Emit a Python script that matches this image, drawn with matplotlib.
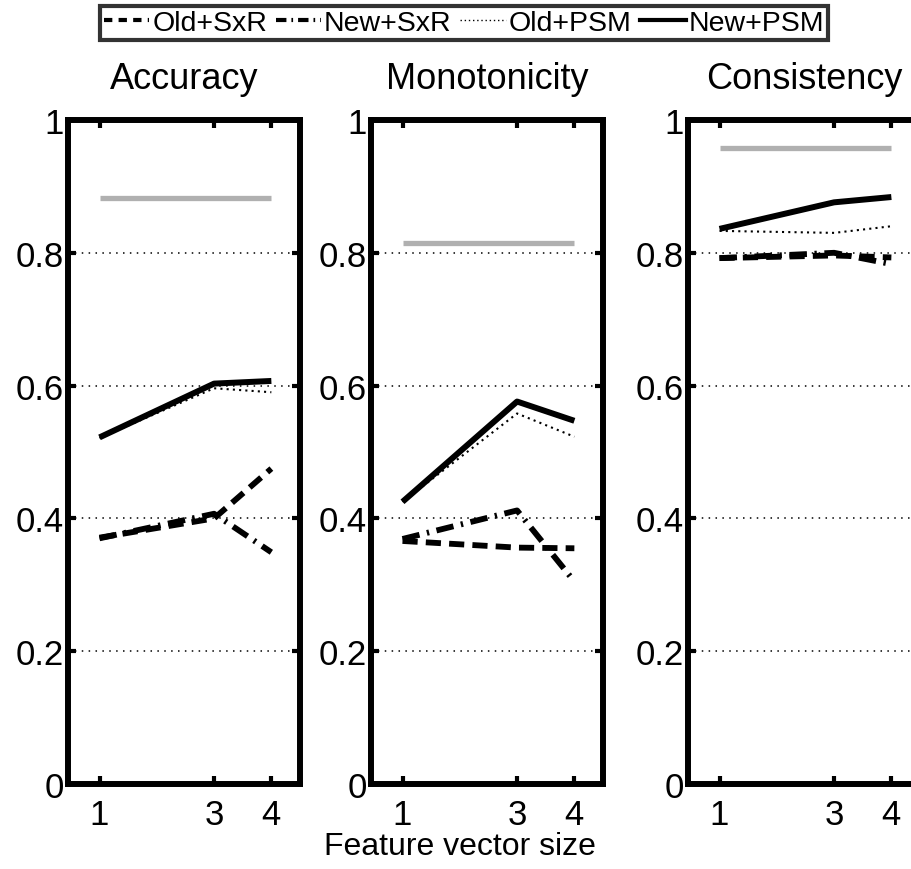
import matplotlib
matplotlib.use('Agg')
import matplotlib.pyplot as plt
from matplotlib.lines import Line2D

plt.rcParams['font.family'] = ['Liberation Sans', 'DejaVu Sans']

# feature vector sizes on the x axis
sizes = [1, 3, 4]
titles = ['Accuracy', 'Monotonicity', 'Consistency']

# one list per method, one triple per panel
old_sxr = [[0.371, 0.400, 0.475], [0.366, 0.356, 0.355], [0.792, 0.796, 0.793]]
new_sxr = [[0.370, 0.407, 0.349], [0.369, 0.412, 0.305], [0.792, 0.800, 0.783]]
old_psm = [[0.521, 0.596, 0.590], [0.425, 0.558, 0.523], [0.833, 0.830, 0.840]]
new_psm = [[0.522, 0.603, 0.607], [0.425, 0.576, 0.547], [0.836, 0.876, 0.884]]
# gray reference level per panel
reference = [0.882, 0.815, 0.958]

yticks = [0, 0.2, 0.4, 0.6, 0.8, 1]
yticklabels = ['0', '0.2', '0.4', '0.6', '0.8', '1']

W, H = 911, 870
fig = plt.figure(figsize=(W / 100, H / 100), dpi=100)

lefts = [68, 371, 688]
ax_w = 232
bottom, top = 785, 121

dash = (0, (2.6, 1.4))
dashdot = (0, (3.0, 1.3, 0.4, 1.3))
dotted = (0, (1, 2))

for i, left in enumerate(lefts):
    ax = fig.add_axes([left / W, 1 - bottom / H, ax_w / W, (bottom - top) / H])
    ax.plot([sizes[0], sizes[-1]], [reference[i], reference[i]], color='#b0b0b0', lw=3.8, solid_capstyle='butt')
    ax.plot(sizes, old_psm[i], color='black', lw=1.5, linestyle=dotted)
    ax.plot(sizes, old_sxr[i], color='black', lw=4.2, linestyle=dash)
    ax.plot(sizes, new_sxr[i], color='black', lw=4.2, linestyle=dashdot)
    ax.plot(sizes, new_psm[i], color='black', lw=4.3, solid_capstyle='butt')

    ax.set_xlim(0.45, 4.5)
    ax.set_ylim(0, 1)
    ax.set_xticks(sizes)
    ax.set_yticks(yticks)
    ax.set_yticklabels(yticklabels)
    ax.tick_params(axis='both', direction='in', length=6, width=3, labelsize=25,
                   top=True, right=True)
    ax.tick_params(axis='y', pad=3)
    ax.tick_params(axis='x', pad=10)
    for sp in ax.spines.values():
        sp.set_linewidth(4.3)
    ax.yaxis.grid(True, color='black', lw=1.1, linestyle=(0, (1, 3.5)))
    ax.set_axisbelow(False)
    ax.set_title(titles[i], fontsize=26, pad=23)

fig.text(460 / W, 1 - 847 / H, 'Feature vector size', fontsize=23, ha='center', va='center')

handles = [
    Line2D([], [], color='black', lw=3, linestyle=(0, (2, 1.5))),
    Line2D([], [], color='black', lw=3, linestyle=(0, (2.5, 1.2, 0.4, 1.2))),
    Line2D([], [], color='black', lw=1, linestyle=(0, (1, 2))),
    Line2D([], [], color='black', lw=3),
]
labels = ['Old+SxR', 'New+SxR', 'Old+PSM', 'New+PSM']
leg = fig.legend(handles, labels, loc='center', bbox_to_anchor=(464 / W, 1 - 24 / H),
                 ncol=4, fontsize=20.5, frameon=True, fancybox=False, handlelength=1.6,
                 handletextpad=0.1, columnspacing=0.3, borderpad=0.15, borderaxespad=0)
leg.get_frame().set_edgecolor('black')
leg.get_frame().set_linewidth(3)

fig.savefig('out.png', dpi=100)
